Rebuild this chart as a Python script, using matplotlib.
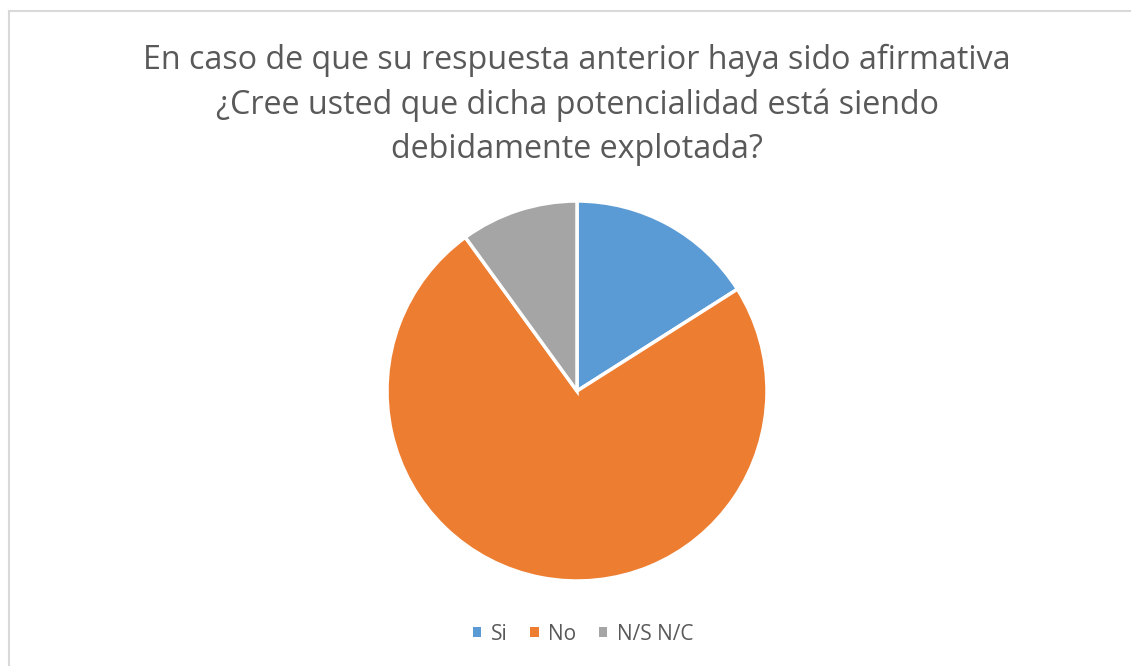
import matplotlib
matplotlib.use("Agg")
import matplotlib.pyplot as plt
from matplotlib.lines import Line2D
from matplotlib.patches import Patch

categories = ["Si", "No", "N/S N/C"]
values = [16, 74, 10]
colors = ["#5B9BD5", "#ED7D31", "#A5A5A5"]
title = ("En caso de que su respuesta anterior haya sido afirmativa\n"
         "¿Cree usted que dicha potencialidad está siendo\n"
         "debidamente explotada?")

W, H = 1131, 666
fig = plt.figure(figsize=(W / 100, H / 100), dpi=100)
fig.patch.set_facecolor("white")

# border (left & top visible)
fig.add_artist(Line2D([9 / W, 9 / W], [0, 1 - 11 / H], color="#D9D9D9", lw=1.5))
fig.add_artist(Line2D([9 / W, 1], [1 - 11 / H, 1 - 11 / H], color="#D9D9D9", lw=1.5))

cx, cy, r = 577, 391, 190
ax = fig.add_axes([(cx - r) / W, (H - cy - r) / H, 2 * r / W, 2 * r / H])
ax.pie(values, colors=colors, startangle=90, counterclock=False,
       wedgeprops=dict(edgecolor="white", linewidth=2.5), radius=1)
ax.set_xlim(-1, 1)
ax.set_ylim(-1, 1)
ax.set_aspect("equal")
ax.axis("off")

fig.text(577 / W, 1 - 105 / H, title, ha="center", va="center", fontsize=23.2,
         color="#595959", family="Open Sans", linespacing=1.45)

handles = [Patch(facecolor=c, edgecolor="none") for c in colors]
fig.legend(handles, categories, loc="center", bbox_to_anchor=(583 / W, 1 - 634 / H),
           ncol=3, frameon=False, handlelength=0.4, handleheight=0.4,
           handletextpad=0.45, columnspacing=1.1, labelcolor="#595959",
           prop={"family": "Open Sans", "size": 15})

fig.savefig("out.png", dpi=100, facecolor="white")
